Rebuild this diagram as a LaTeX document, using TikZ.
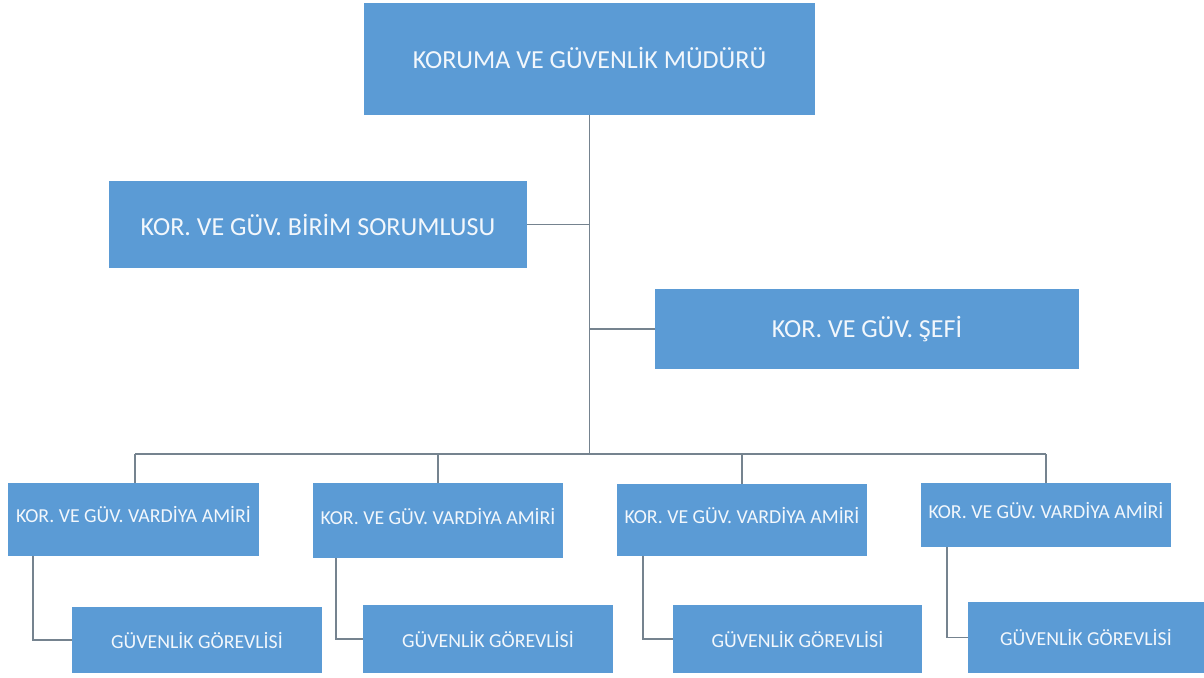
\documentclass[tikz,border=0pt]{standalone}
\usepackage{fontspec}
\setmainfont{Carlito}
\definecolor{boxblue}{HTML}{5B9BD5}
\definecolor{linegray}{HTML}{75838F}
\definecolor{txt}{HTML}{F2F7FC}
\begin{document}
\begin{tikzpicture}[x=1pt,y=-1pt,
  orgbox/.style={fill=boxblue, draw=none, inner sep=0pt, text=txt, anchor=center},
  big/.style={font=\fontsize{26}{29}\selectfont},
  small/.style={font=\fontsize{19.8}{23}\selectfont},
  conn/.style={draw=linegray, line width=1.5pt}]
\useasboundingbox (0,0) rectangle (1204,677);
\fill[white] (0,0) rectangle (1204,677);
% boxes
\node[orgbox, big, minimum width=451pt, minimum height=112pt] (top) at (589.5,59) {};
\node[txt, big] at (589.5,58) {KORUMA VE GÜVENLİK MÜDÜRÜ};
\node[orgbox, big, minimum width=418pt, minimum height=87pt] (birim) at (318,224.5) {KOR. VE GÜV. BİRİM SORUMLUSU};
\node[orgbox, big, minimum width=424pt, minimum height=80pt] (sefi) at (867,329) {KOR. VE GÜV. ŞEFİ};
\node[orgbox, small, minimum width=251pt, minimum height=73pt] (v1) at (133.5,519.5) {};
\node[orgbox, small, minimum width=250pt, minimum height=75pt] (v2) at (438,520.5) {};
\node[orgbox, small, minimum width=250pt, minimum height=72pt] (v3) at (742,520) {};
\node[orgbox, small, minimum width=250pt, minimum height=64pt] (v4) at (1046,515) {};
\node[text=txt, small] at (133.5,514) {KOR. VE GÜV. VARDİYA AMİRİ};
\node[text=txt, small] at (438,516) {KOR. VE GÜV. VARDİYA AMİRİ};
\node[text=txt, small] at (742,515) {KOR. VE GÜV. VARDİYA AMİRİ};
\node[text=txt, small] at (1046,510) {KOR. VE GÜV. VARDİYA AMİRİ};
\node[orgbox, small, minimum width=250pt, minimum height=66pt] (g1) at (197,640) {GÜVENLİK GÖREVLİSİ};
\node[orgbox, small, minimum width=250pt, minimum height=68pt] (g2) at (488,639) {GÜVENLİK GÖREVLİSİ};
\node[orgbox, small, minimum width=249pt, minimum height=68pt] (g3) at (797.5,639) {GÜVENLİK GÖREVLİSİ};
\node[orgbox, small, minimum width=236pt, minimum height=71pt] (g4) at (1086,637.5) {GÜVENLİK GÖREVLİSİ};
% connectors
\coordinate (busL) at (135,454);
\coordinate (busR) at (1046,454);
\coordinate (tb) at (589.5,454);
\draw[conn] (top.south) -- (tb);
\draw[conn] (birim.east) -- (birim.east -| top.south);
\draw[conn] (sefi.west) -- (sefi.west -| top.south);
\draw[conn] (busL) -- (busR);
\draw[conn] (busL) -- (busL |- v1.north);
\draw[conn] (v2.north |- busL) -- (v2.north);
\draw[conn] (v3.north |- busL) -- (v3.north);
\draw[conn] (busR) -- (busR |- v4.north);
\draw[conn] ([xshift=25pt]v1.south west) |- (g1.west);
\draw[conn] ([xshift=23pt]v2.south west) |- (g2.west);
\draw[conn] ([xshift=26pt]v3.south west) |- (g3.west);
\draw[conn] ([xshift=26pt]v4.south west) |- (g4.west);
\end{tikzpicture}
\end{document}
